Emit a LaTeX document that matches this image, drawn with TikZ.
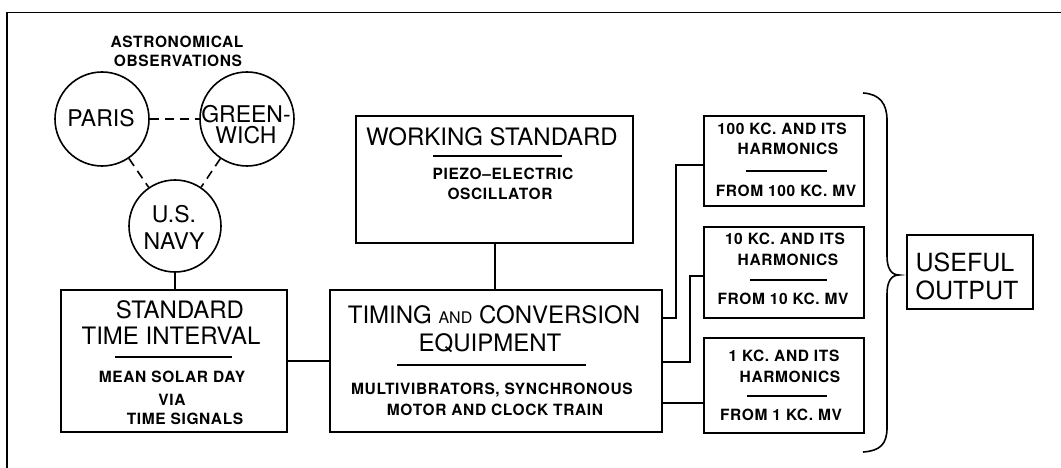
\documentclass[tikz,border=0pt]{standalone}
\usepackage{fontspec}
\setmainfont{TeX Gyre Heros}
\newfontfamily\smallf[LetterSpace=4,BoldFont={TeX Gyre Heros Bold}]{TeX Gyre Heros}
\begin{document}
\begin{tikzpicture}[x=1pt,y=-1pt,
  box/.style={draw, line width=1.6pt, inner sep=0pt},
  circ/.style={draw, circle, line width=1.6pt, inner sep=0pt, minimum size=94pt},
  big/.style={font=\fontsize{24}{24}\selectfont, inner sep=0pt, text height=17pt, text depth=0pt},
  cbig/.style={font=\fontsize{23}{21}\selectfont, inner sep=0pt, align=center},
  ubig/.style={font=\fontsize{25}{25}\selectfont, inner sep=0pt, text height=18pt, text depth=0pt},
  sm/.style={font=\smallf\bfseries\fontsize{15.5}{15.5}\selectfont, inner sep=0pt, text height=11.3pt, text depth=0pt},
  rulel/.style={line width=1.4pt},
  conn/.style={line width=2pt},
  dashconn/.style={line width=1.6pt, dash pattern=on 9pt off 6pt}
]
\useasboundingbox (0,0) rectangle (1061,468);
% frame
\draw[line width=1.7pt] (7,468) -- (7,12.5) -- (1061,12.5);

% astronomical observations
\node[sm] (ast1) at (177,42) {ASTRONOMICAL};
\node[sm] (ast2) at (178,61) {OBSERVATIONS};
\node[circ] (paris) at (102,119) {};
\node[cbig, text height=16.5pt, text depth=0pt] (tparis) at (101,118) {PARIS};
\node[circ] (green) at (247,119) {};
\node[cbig] (tgreen) at (246,125) {GREEN-\\WICH};
\node[circ, minimum size=92pt] (navy) at (175,226) {};
\node[cbig] (tnavy) at (174,227) {U.S.\\[6pt]NAVY};
\draw[dashconn] (paris) -- (green);
\draw[dashconn] (paris) -- (navy);
\draw[dashconn] (green) -- (navy);

% standard time interval
\node[box, minimum width=226pt, minimum height=142pt] (std) at (174,361) {};
\node[big] (tstd1) at (180,310) {STANDARD};
\node[big] (tstd2) at (171,336) {TIME INTERVAL};
\draw[rulel] (115,357) -- (232,357);
\node[sm] (tstd3) at (172,377) {MEAN SOLAR DAY};
\node[sm] (tstd4) at (172,400) {VIA};
\node[sm] (tstd5) at (185,419) {TIME SIGNALS};

% timing and conversion
\node[box, minimum width=332pt, minimum height=142pt] (timing) at (496,361) {};
\node[big] (ttim1) at (494,315) {TIMING {\fontsize{16}{16}\selectfont AND} CONVERSION};
\node[big] (ttim2) at (490,343) {EQUIPMENT};
\draw[rulel] (397,365) -- (586,365);
\node[sm] (ttim3) at (492,389) {MULTIVIBRATORS, SYNCHRONOUS};
\node[sm] (ttim4) at (495,410) {MOTOR AND CLOCK TRAIN};

% working standard
\node[box, minimum width=277pt, minimum height=127pt] (work) at (494.5,179.5) {};
\node[big] (twork1) at (492,137) {WORKING STANDARD};
\draw[rulel] (433,156) -- (562,156);
\node[sm] (twork2) at (503,174) {PIEZO–ELECTRIC};
\node[sm] (twork3) at (500,194) {OSCILLATOR};

% output boxes
\node[box, minimum width=160pt, minimum height=90pt] (b100) at (784,161) {};
\node[sm] (tb100a) at (782,129) {100 KC. AND ITS};
\node[sm] (tb100b) at (788,149) {HARMONICS};
\draw[rulel] (746,171) -- (827,171);
\node[sm] (tb100c) at (786,191) {FROM 100 KC. MV};

\node[box, minimum width=160pt, minimum height=91pt] (b10) at (784,272.5) {};
\node[sm] (tb10a) at (785,239) {10 KC. AND ITS};
\node[sm] (tb10b) at (788,260) {HARMONICS};
\draw[rulel] (750,280) -- (827,280);
\node[sm] (tb10c) at (783,299) {FROM 10 KC. MV};

\node[box, minimum width=160pt, minimum height=95pt] (b1) at (784,385.5) {};
\node[sm] (tb1a) at (784,356) {1 KC. AND ITS};
\node[sm] (tb1b) at (790,377) {HARMONICS};
\draw[rulel] (747,396) -- (827,396);
\node[sm] (tb1c) at (781,415) {FROM 1 KC. MV};

\node[box, minimum width=126pt, minimum height=74pt] (useful) at (970,272) {};
\node[ubig] (tuse1) at (965,262) {USEFUL};
\node[ubig] (tuse2) at (967,290) {OUTPUT};

% connectors
\draw[conn] (navy.south) -- (navy.south |- std.north);
\draw[conn] (std.east) -- (timing.west);
\draw[conn] (work.south) -- (work.south |- timing.north);
\coordinate (t1) at ([yshift=43pt]timing.east);
\coordinate (t2) at ([yshift=-1pt]timing.east);
\coordinate (t3) at ([yshift=-42pt]timing.east);
\coordinate (e1) at ([yshift=-4pt]b100.west);
\coordinate (e2) at ([yshift=-3.5pt]b10.west);
\draw[conn] (t1) -- ++(13,0) |- (e1);
\draw[conn] (t2) -- ++(27,0) |- (e2);
\draw[conn] (t3) -- (t3 -| b1.west);

% brace
\draw[line width=1.6pt] (863,93) .. controls (880,94) and (887,104) .. (887,120) -- (887,256)
  .. controls (887,268) and (891,275) .. (899,275)
  .. controls (891,275) and (887,282) .. (887,294) -- (887,428)
  .. controls (887,444) and (880,451) .. (863,452);
\end{tikzpicture}
\end{document}
